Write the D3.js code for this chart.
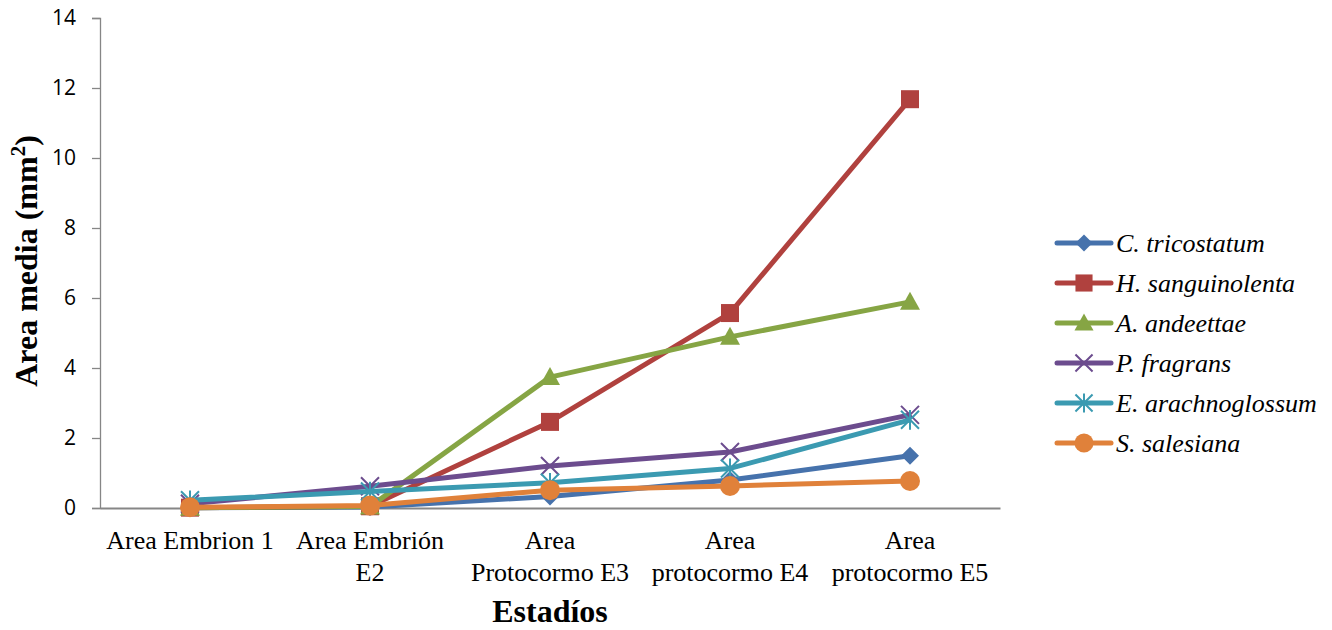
<!DOCTYPE html>
<html>
<head>
<meta charset="utf-8">
<script src="https://cdn.jsdelivr.net/npm/d3@7"></script>
<style>
html,body{margin:0;padding:0;background:#fff;}
svg{display:block;}
</style>
</head>
<body>
<svg id="chart" width="1332" height="630"></svg>
<script>
const categories = [["Area Embrion 1"], ["Area Embrión", "E2"], ["Area", "Protocormo E3"], ["Area", "protocormo E4"], ["Area", "protocormo E5"]];
const seriesNames = ["C. tricostatum", "H. sanguinolenta", "A. andeettae", "P. fragrans", "E. arachnoglossum", "S. salesiana"];
const cTricostatum = [0.01, 0.03, 0.33, 0.80, 1.49];
const hSanguinolenta = [0.01, 0.05, 2.46, 5.57, 11.68];
const aAndeettae = [0.01, 0.04, 3.74, 4.89, 5.89];
const pFragrans = [0.12, 0.62, 1.20, 1.60, 2.66];
const eArachnoglossum = [0.22, 0.47, 0.72, 1.13, 2.52];
const sSalesiana = [0.02, 0.07, 0.51, 0.63, 0.77];
const yTicks = [0, 2, 4, 6, 8, 10, 12, 14];

const seriesValues = [cTricostatum, hSanguinolenta, aAndeettae, pFragrans, eArachnoglossum, sSalesiana];
const colors = ["#4672AC", "#B0413E", "#86A544", "#6C4C8E", "#3B9AB1", "#E0813A"];
const markers = ["diamond", "square", "triangle", "x", "star", "circle"];

const svg = d3.select("#chart");
const mLeft = 100, mRight = 1000, mTop = 18, mBottom = 508;
const serif = "'Liberation Serif', 'Times New Roman', serif";

const x = d3.scaleBand().domain(d3.range(categories.length)).range([mLeft, mRight]);
const y = d3.scaleLinear().domain([0, 14]).range([mBottom, mTop]);
const cx = i => x(i) + x.bandwidth() / 2;

// y axis
const yAxis = d3.axisLeft(y).tickValues(yTicks).tickSize(8).tickPadding(16);
const gy = svg.append("g").attr("transform", `translate(${mLeft},0)`).call(yAxis);
gy.select(".domain").attr("stroke", "#868686").attr("stroke-width", 1.3);
gy.selectAll(".tick line").attr("stroke", "#868686").attr("stroke-width", 1.3);
gy.selectAll(".tick text").attr("font-family", "'Open Sans', 'Liberation Sans', sans-serif").attr("font-size", 21).attr("fill", "#000");

// x axis
const xAxis = d3.axisBottom(x).tickSize(0).tickFormat("");
const gx = svg.append("g").attr("transform", `translate(0,${mBottom})`).call(xAxis);
gx.select(".domain").attr("stroke", "#868686").attr("stroke-width", 2);

// category labels
categories.forEach((lines, i) => {
  const t = svg.append("text").attr("text-anchor", "middle")
    .attr("font-family", serif).attr("font-size", 26).attr("fill", "#000");
  lines.forEach((ln, j) => {
    t.append("tspan").attr("x", cx(i)).attr("y", 549 + j * 32).text(ln);
  });
});

// axis titles
svg.append("text").attr("transform", `translate(37,261) rotate(-90)`)
  .attr("text-anchor", "middle").attr("font-family", serif)
  .attr("font-weight", "bold").attr("font-size", 32).attr("fill", "#000")
  .html('Area media (mm<tspan dy="-12" font-size="21">2</tspan><tspan dy="12">)</tspan>');

svg.append("text").attr("x", 550).attr("y", 622).attr("text-anchor", "middle")
  .attr("font-family", serif)
  .attr("font-weight", "bold").attr("font-size", 32).attr("fill", "#000").text("Estadíos");

function drawMarker(g, type, px, py, color, scale) {
  const s = scale || 1;
  if (type === "diamond") {
    const r = 9 * s;
    g.append("path").attr("d", `M${px},${py - r}L${px + r},${py}L${px},${py + r}L${px - r},${py}Z`).attr("fill", color);
  } else if (type === "square") {
    const r = 9 * s;
    g.append("rect").attr("x", px - r).attr("y", py - r).attr("width", 2 * r).attr("height", 2 * r).attr("fill", color);
  } else if (type === "triangle") {
    const r = 10 * s;
    g.append("path").attr("d", `M${px},${py - r}L${px + r},${py + r * 0.8}L${px - r},${py + r * 0.8}Z`).attr("fill", color);
  } else if (type === "x") {
    const r = 9 * s;
    g.append("path").attr("d", `M${px - r},${py - r}L${px + r},${py + r}M${px - r},${py + r}L${px + r},${py - r}`)
      .attr("stroke", color).attr("stroke-width", 2);
  } else if (type === "star") {
    const r = 9 * s;
    g.append("path").attr("d", `M${px - r},${py - r}L${px + r},${py + r}M${px - r},${py + r}L${px + r},${py - r}M${px},${py - r * 1.1}L${px},${py + r * 1.1}`)
      .attr("stroke", color).attr("stroke-width", 2);
  } else if (type === "circle") {
    g.append("circle").attr("cx", px).attr("cy", py).attr("r", 10 * s).attr("fill", color);
  }
}

const line = d3.line().x((d, i) => cx(i)).y(d => y(d));

seriesValues.forEach((vals, si) => {
  const g = svg.append("g");
  g.append("path").datum(vals).attr("d", line).attr("fill", "none")
    .attr("stroke", colors[si]).attr("stroke-width", 5).attr("stroke-linejoin", "round");
  vals.forEach((v, i) => drawMarker(g, markers[si], cx(i), y(v), colors[si], 1));
});

// legend
const legendTop = 243, legendStep = 40;
seriesNames.forEach((name, si) => {
  const ly = legendTop + si * legendStep;
  const g = svg.append("g");
  g.append("line").attr("x1", 1057).attr("x2", 1111).attr("y1", ly).attr("y2", ly)
    .attr("stroke", colors[si]).attr("stroke-width", 5).attr("stroke-linecap", "round");
  drawMarker(g, markers[si], 1084, ly, colors[si], 0.95);
  g.append("text").attr("x", 1116).attr("y", ly + 9)
    .attr("font-family", serif).attr("font-style", "italic")
    .attr("font-size", 26).attr("fill", "#000").text(name);
});
</script>
</body>
</html>
